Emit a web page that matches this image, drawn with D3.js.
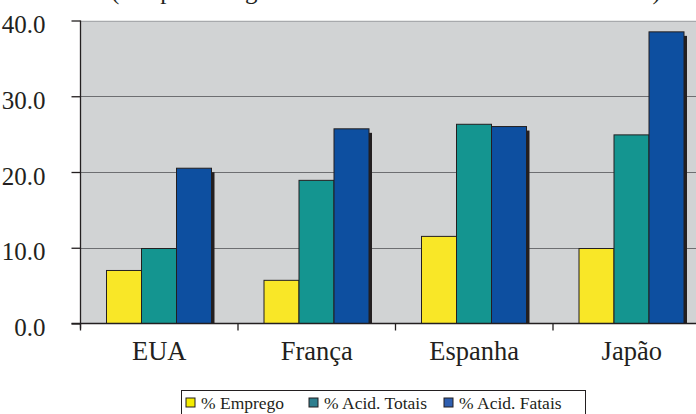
<!DOCTYPE html>
<html>
<head>
<meta charset="utf-8">
<script src="https://cdn.jsdelivr.net/npm/d3@7"></script>
<style>
  html, body { margin: 0; padding: 0; background: #ffffff; overflow: hidden; }
  svg { display: block; }
</style>
</head>
<body>
<svg id="chart" width="696" height="414"></svg>
<script>
// Countries along the x axis
const categories = ["EUA", "França", "Espanha", "Japão"];
// Series and their values (%)
const seriesNames = ["% Emprego", "% Acid. Totais", "% Acid. Fatais"];
const emprego     = [7.0, 5.7, 11.5, 9.9];
const acidTotais  = [9.9, 18.9, 26.3, 24.9];
const acidFatais  = [20.5, 25.7, 26.0, 38.5];
const yTicks = [0, 10, 20, 30, 40];
const titleText = "(Em percentagem do total de cada um dos indicadores)";

const seriesValues = [emprego, acidTotais, acidFatais];
const colors = ["#f9e727", "#149590", "#0d4fa0"];
const serif = "'Liberation Serif', 'Times New Roman', Times, serif";

const svg = d3.select("#chart");
const plot = { left: 80.5, top: 20.5, bottom: 323.5, right: 696 };

const x0 = d3.scaleBand().domain(categories).range([plot.left, plot.left + 4 * 157.5]).padding(0);
const x1 = d3.scaleBand().domain(seriesNames).range([26, 131]).padding(0);
const y = d3.scaleLinear().domain([0, 40]).range([plot.bottom, plot.top]);

// Title line running off the top edge
svg.append("text")
  .attr("x", 111).attr("y", -1)
  .style("font-family", serif).style("font-size", "25px")
  .attr("fill", "#231f20")
  .text(titleText);

// Plot background
svg.append("rect")
  .attr("x", plot.left).attr("y", plot.top)
  .attr("width", plot.right - plot.left).attr("height", plot.bottom - plot.top)
  .attr("fill", "#d1d3d4");

// Gridlines
svg.append("g").selectAll("line").data(yTicks.filter(d => d > 0)).join("line")
  .attr("x1", plot.left).attr("x2", plot.right)
  .attr("y1", d => Math.round(y(d)) + 0.5).attr("y2", d => Math.round(y(d)) + 0.5)
  .attr("stroke", d => d === 40 ? "#a7a9ac" : "#6d6e71").attr("stroke-width", 1.2);

// Bars with drop shadows
const rows = [];
categories.forEach((c, i) => seriesNames.forEach((s, j) => rows.push({ c, s, j, v: seriesValues[j][i] })));

const groups = svg.append("g").selectAll("g").data(categories).join("g")
  .attr("transform", d => `translate(${x0(d)},0)`);

groups.selectAll("rect.shadow")
  .data(c => rows.filter(r => r.c === c))
  .join("rect").attr("class", "shadow")
  .attr("x", d => x1(d.s) + 3).attr("y", d => y(d.v) + 4)
  .attr("width", x1.bandwidth()).attr("height", d => plot.bottom - y(d.v) - 4)
  .attr("fill", "#231f20");

groups.selectAll("rect.bar")
  .data(c => rows.filter(r => r.c === c))
  .join("rect").attr("class", "bar")
  .attr("x", d => x1(d.s)).attr("y", d => y(d.v))
  .attr("width", x1.bandwidth()).attr("height", d => plot.bottom - y(d.v))
  .attr("fill", d => colors[d.j])
  .attr("stroke", "#231f20").attr("stroke-width", 1);

// Y axis
const yAxis = svg.append("g").attr("transform", `translate(${plot.left},0)`)
  .call(d3.axisLeft(y).tickValues(yTicks).tickFormat(d3.format(".1f")).tickSize(9).tickPadding(26));
yAxis.select(".domain").attr("d", `M0,${plot.top}V${plot.bottom + 5}`).attr("stroke", "#231f20").attr("stroke-width", 1.3);
yAxis.selectAll(".tick line").attr("stroke", "#231f20").attr("stroke-width", 1.3);
yAxis.selectAll(".tick text")
  .style("font-family", serif).style("font-size", "25px")
  .attr("fill", "#231f20").attr("dy", 12);

// X axis
const xAxis = svg.append("g").attr("transform", `translate(0,${plot.bottom})`);
xAxis.append("line")
  .attr("x1", plot.left - 9).attr("x2", plot.right)
  .attr("stroke", "#231f20").attr("stroke-width", 1.3);
xAxis.selectAll("line.tick").data(categories).join("line").attr("class", "tick")
  .attr("x1", d => x0(d)).attr("x2", d => x0(d))
  .attr("y1", 0).attr("y2", 7)
  .attr("stroke", "#231f20").attr("stroke-width", 1.3);
xAxis.selectAll("text").data(categories).join("text")
  .attr("x", d => x0(d) + x0.bandwidth() / 2).attr("y", 36)
  .attr("text-anchor", "middle")
  .style("font-family", serif).style("font-size", "26.5px")
  .attr("fill", "#231f20")
  .text(d => d);

// Legend
const legend = svg.append("g");
legend.append("rect")
  .attr("x", 181.5).attr("y", 390.5).attr("width", 404).attr("height", 30)
  .attr("fill", "#ffffff").attr("stroke", "#231f20").attr("stroke-width", 1);
const legendX = [186, 309, 444];
const swatchColors = ["#f4ec00", "#2e7f8f", "#2f5fb0"];
const items = legend.selectAll("g.item").data(seriesNames).join("g").attr("class", "item")
  .attr("transform", (d, i) => `translate(${legendX[i]},398)`);
items.append("rect")
  .attr("width", 9).attr("height", 9)
  .attr("fill", (d, i) => swatchColors[i]).attr("stroke", "#231f20").attr("stroke-width", 1);
items.append("text")
  .attr("x", 15).attr("y", 10.5)
  .style("font-family", serif).style("font-size", "17.5px")
  .attr("fill", "#231f20")
  .text(d => d);
</script>
</body>
</html>
